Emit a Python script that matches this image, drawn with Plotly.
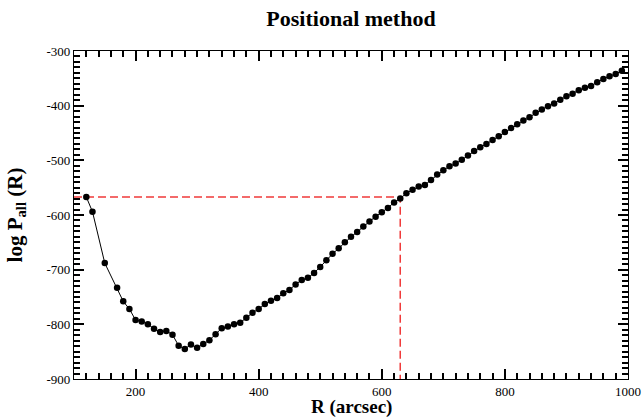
import plotly.graph_objects as go

R_arcsec = [120, 130, 150, 170, 180, 190, 200, 210, 220, 230, 240, 250, 260, 270, 280, 290,
            300, 310, 320, 330, 340, 350, 360, 370, 380, 390, 400, 410, 420, 430, 440, 450,
            460, 470, 480, 490, 500, 510, 520, 530, 540, 550, 560, 570, 580, 590, 600, 610,
            620, 630, 640, 650, 660, 670, 680, 690, 700, 710, 720, 730, 740, 750, 760, 770,
            780, 790, 800, 810, 820, 830, 840, 850, 860, 870, 880, 890, 900, 910, 920, 930,
            940, 950, 960, 970, 980, 990]
logP_all = [-567, -594, -688, -733, -758, -772, -792, -795, -800, -808, -814, -812, -819, -839, -845, -837,
            -843, -836, -829, -818, -807, -804, -800, -797, -788, -779, -772, -763, -757, -752, -743, -737,
            -727, -719, -715, -706, -695, -683, -671, -661, -650, -640, -631, -621, -612, -603, -595, -587,
            -577, -570, -560, -554, -548, -545, -536, -526, -518, -511, -506, -499, -491, -483, -476, -470,
            -463, -456, -448, -441, -434, -427, -421, -413, -407, -401, -396, -389, -383, -378, -372, -367,
            -364, -357, -351, -346, -342, -336]

cut_R = 630
cut_logP = -567
x_range = [100, 1000]
y_range = [-900, -300]
x_ticks = [200, 400, 600, 800, 1000]
y_ticks = [-900, -800, -700, -600, -500, -400, -300]
x_minor_step = 20
y_minor_step = 10

FONT = "Liberation Serif"

fig = go.Figure()
fig.add_trace(go.Scatter(
    x=[x_range[0], cut_R, cut_R], y=[cut_logP, cut_logP, y_range[0]],
    mode="lines", line=dict(color="#f03a3a", width=1.5, dash="8px,4px"),
    hoverinfo="skip", showlegend=False))
fig.add_trace(go.Scatter(
    x=R_arcsec, y=logP_all, mode="lines+markers",
    line=dict(color="black", width=1),
    marker=dict(color="black", size=6.5),
    showlegend=False))

axis_common = dict(
    showline=True, linecolor="black", linewidth=1.2, mirror="allticks",
    ticks="inside", ticklen=10, tickwidth=1.5, tickcolor="black",
    showgrid=False, zeroline=False, automargin=False,
    tickfont=dict(family=FONT, size=13, color="black"),
)

fig.update_layout(
    width=644, height=417,
    margin=dict(l=74, r=16, t=51, b=38),
    plot_bgcolor="white", paper_bgcolor="white",
    title=dict(text="<b>Positional method</b>", x=0.5, xref="paper", y=0.955, yref="container",
               xanchor="center", yanchor="middle",
               font=dict(family=FONT, size=22, color="black")),
    xaxis=dict(
        range=x_range, tickmode="array", tickvals=x_ticks, ticktext=[str(v) for v in x_ticks],
        minor=dict(tickmode="linear", tick0=0, dtick=x_minor_step, ticks="inside", ticklen=6,
                   tickwidth=1.5, tickcolor="black", showgrid=False),
        title=dict(text=""),
        **axis_common),
    yaxis=dict(
        range=y_range, tickmode="array", tickvals=y_ticks, ticktext=[str(v) for v in y_ticks],
        minor=dict(tickmode="linear", tick0=0, dtick=y_minor_step, ticks="inside", ticklen=6,
                   tickwidth=1.5, tickcolor="black", showgrid=False),
        title=dict(text="<b>log P<sub>all</sub> (R)</b>", font=dict(family=FONT, size=21, color="black"), standoff=18),
        **axis_common),
    annotations=[dict(text="<b>R (arcsec)</b>", xref="paper", yref="paper", x=0.5, y=0,
                      xanchor="center", yanchor="top", yshift=-15, showarrow=False,
                      font=dict(family=FONT, size=19, color="black"))],
)

fig.write_html("out.html")
